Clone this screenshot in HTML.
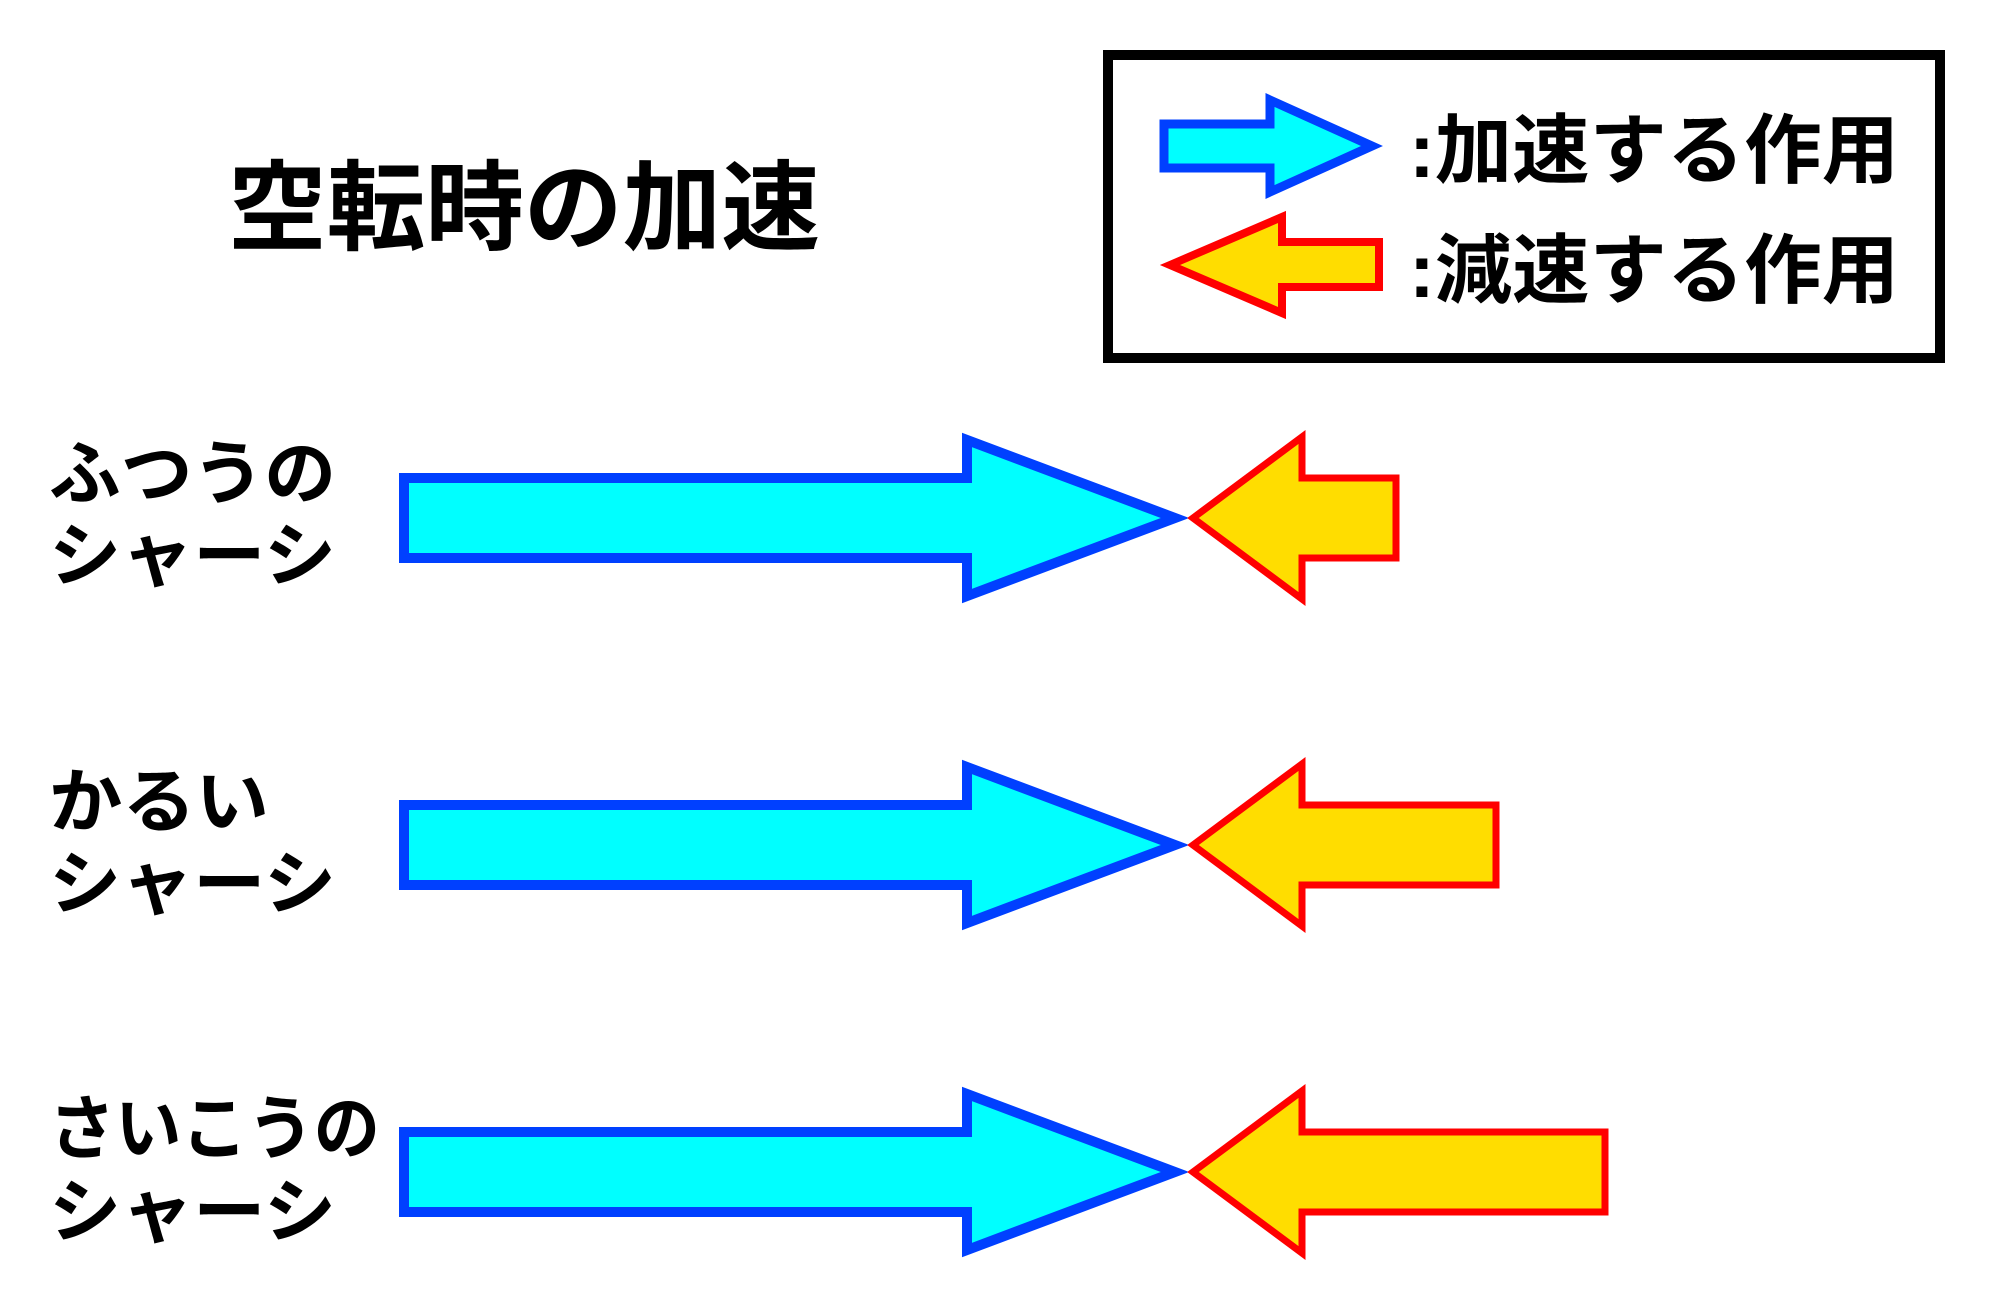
<!DOCTYPE html>
<html><head><meta charset="utf-8"><style>
html,body{margin:0;padding:0;background:#fff;}
svg{display:block;}
text{font-family:"Liberation Sans","Noto Sans CJK JP",sans-serif;font-weight:bold;fill:#000;}
</style></head><body>
<svg width="2000" height="1310" viewBox="0 0 2000 1310" xmlns="http://www.w3.org/2000/svg">
<rect x="0" y="0" width="2000" height="1310" fill="#fff"/>
<text x="228" y="242" font-size="98" textLength="592" lengthAdjust="spacingAndGlyphs">空転時の加速</text>
<rect x="1108" y="55" width="832" height="303" fill="#fff" stroke="#000" stroke-width="10"/>
<polygon points="1164,124 1270,124 1270,100 1372,146 1270,192 1270,168 1164,168" fill="#00ffff" stroke="#0040ff" stroke-width="9"/>
<polygon points="1170,265 1282,217 1282,242 1379,242 1379,287 1282,287 1282,313" fill="#ffdd00" stroke="#ff0000" stroke-width="8"/>
<text x="1409" y="177" font-size="76" textLength="490" lengthAdjust="spacingAndGlyphs">:加速する作用</text>
<text x="1409" y="297" font-size="76" textLength="490" lengthAdjust="spacingAndGlyphs">:減速する作用</text>
<text x="49" y="498" font-size="70" textLength="287" lengthAdjust="spacingAndGlyphs">ふつうの</text>
<text x="49" y="580" font-size="70" textLength="287" lengthAdjust="spacingAndGlyphs">シャーシ</text>
<text x="49" y="826" font-size="70" textLength="220" lengthAdjust="spacingAndGlyphs">かるい</text>
<text x="49" y="908" font-size="70" textLength="287" lengthAdjust="spacingAndGlyphs">シャーシ</text>
<text x="49" y="1153" font-size="70" textLength="331" lengthAdjust="spacingAndGlyphs">さいこうの</text>
<text x="49" y="1236" font-size="70" textLength="287" lengthAdjust="spacingAndGlyphs">シャーシ</text>
<polygon points="404,478 967,478 967,440 1175,518 967,596 967,558 404,558" fill="#00ffff" stroke="#0040ff" stroke-width="10"/>
<polygon points="1193,518 1302,437 1302,478 1396,478 1396,558 1302,558 1302,599" fill="#ffdd00" stroke="#ff0000" stroke-width="7"/>
<polygon points="404,805 967,805 967,767 1175,845 967,923 967,885 404,885" fill="#00ffff" stroke="#0040ff" stroke-width="10"/>
<polygon points="1193,845 1302,764 1302,805 1496,805 1496,885 1302,885 1302,926" fill="#ffdd00" stroke="#ff0000" stroke-width="7"/>
<polygon points="404,1132 967,1132 967,1094 1175,1172 967,1250 967,1212 404,1212" fill="#00ffff" stroke="#0040ff" stroke-width="10"/>
<polygon points="1193,1172 1302,1091 1302,1132 1605,1132 1605,1212 1302,1212 1302,1253" fill="#ffdd00" stroke="#ff0000" stroke-width="7"/>
</svg>
</body></html>
